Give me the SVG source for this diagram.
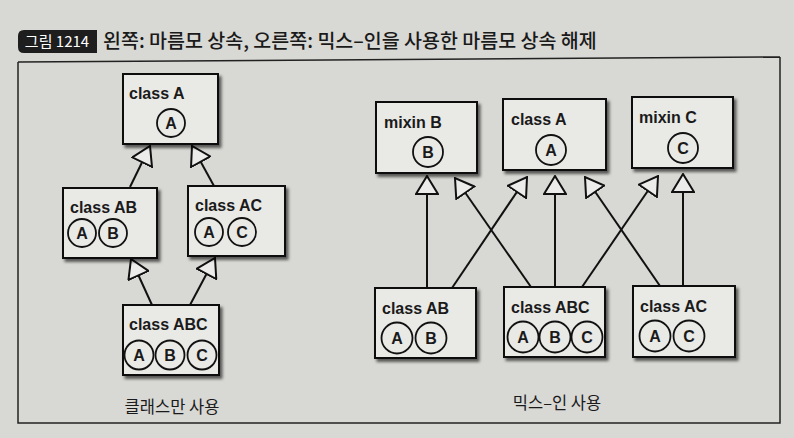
<svg xmlns="http://www.w3.org/2000/svg" width="794" height="438" viewBox="0 0 794 438">
<defs>
<style>
.bg{fill:#d8d8d4}
.box{fill:#e9e9e6;stroke:#111;stroke-width:2;filter:url(#sh)}
.lbl{font-family:"Liberation Sans",Arial,sans-serif;font-weight:bold;font-size:16px;fill:#1a1a1a}
.cir{fill:none;stroke:#111;stroke-width:1.8}
.let{font-family:"Liberation Sans",Arial,sans-serif;font-weight:bold;font-size:16px;fill:#1a1a1a;text-anchor:middle}
.edge{stroke:#111;stroke-width:2;fill:none;marker-end:url(#tri)}
.frame{stroke:#222;stroke-width:1.5;fill:none}
.ko{font-family:"Noto Sans CJK KR","Noto Sans",sans-serif;fill:#1a1a1a}
</style>
<filter id="sh" x="-10%" y="-10%" width="130%" height="130%">
<feDropShadow dx="2.5" dy="3" stdDeviation="1.5" flood-color="#000" flood-opacity="0.6"/>
</filter>
<marker id="tri" viewBox="0 0 20 24" refX="19" refY="12" markerWidth="20" markerHeight="24" markerUnits="userSpaceOnUse" orient="auto">
<path d="M1,1 L19,12 L1,23 Z" fill="#ececea" stroke="#111" stroke-width="2" stroke-linejoin="miter"/>
</marker>
</defs>
<rect class="bg" x="0" y="0" width="794" height="438"/>

<g id="title">
<path d="M24,30 H97 V53 H24 Q18,53 18,47 V36 Q18,30 24,30 Z" fill="#1e1e1e"/>
<text class="ko" x="57" y="47" font-size="15" style="fill:#fff" text-anchor="middle">그림 1214</text>
<text class="ko" x="103" y="48" font-size="19.5" font-weight="500">왼쪽: 마름모 상속, 오른쪽: 믹스–인을 사용한 마름모 상속 해제</text>
</g>

<g id="frame">
<path class="frame" d="M18,62 L780,57"/>
<path class="frame" d="M18,62 L18,423 L780,423 L780,57"/>
</g>

<g id="connectors">
<line class="edge" x1="130" y1="187" x2="150" y2="146"/>
<line class="edge" x1="214" y1="186" x2="192" y2="146"/>
<line class="edge" x1="152" y1="305" x2="131" y2="259"/>
<line class="edge" x1="190" y1="305" x2="215" y2="258"/>
<line class="edge" x1="427" y1="288" x2="427" y2="176"/>
<line class="edge" x1="531" y1="287" x2="455" y2="178"/>
<line class="edge" x1="452" y1="288" x2="527" y2="177"/>
<line class="edge" x1="555" y1="287" x2="555" y2="176"/>
<line class="edge" x1="582" y1="287" x2="658" y2="176"/>
<line class="edge" x1="660" y1="286" x2="585" y2="177"/>
<line class="edge" x1="683" y1="286" x2="683" y2="174"/>
</g>

<g id="left-classA">
<rect class="box" x="123" y="74" width="95" height="70"/>
<text class="lbl" x="129" y="99">class A</text>
<circle class="cir" cx="171" cy="123" r="14"/><text class="let" x="171" y="129">A</text>
</g>
<g id="left-classAB">
<rect class="box" x="63" y="188" width="94" height="70"/>
<text class="lbl" x="70" y="213">class AB</text>
<circle class="cir" cx="82" cy="233" r="14"/><text class="let" x="82" y="239">A</text>
<circle class="cir" cx="113" cy="233" r="14"/><text class="let" x="113" y="239">B</text>
</g>
<g id="left-classAC">
<rect class="box" x="188" y="186" width="97" height="70"/>
<text class="lbl" x="195" y="211">class AC</text>
<circle class="cir" cx="209" cy="232" r="14"/><text class="let" x="209" y="238">A</text>
<circle class="cir" cx="242" cy="232" r="14"/><text class="let" x="242" y="238">C</text>
</g>
<g id="left-classABC">
<rect class="box" x="123" y="305" width="96" height="70"/>
<text class="lbl" x="129" y="330">class ABC</text>
<circle class="cir" cx="139" cy="355" r="14.5"/><text class="let" x="139" y="361">A</text>
<circle class="cir" cx="170" cy="355" r="14.5"/><text class="let" x="170" y="361">B</text>
<circle class="cir" cx="202" cy="355" r="14.5"/><text class="let" x="202" y="361">C</text>
</g>
<text class="ko" x="172" y="413" font-size="16.5">
<tspan text-anchor="middle">클래스만 사용</tspan></text>

<g id="mixinB">
<rect class="box" x="376" y="102" width="101" height="71"/>
<text class="lbl" x="384" y="128">mixin B</text>
<circle class="cir" cx="428" cy="152" r="15"/><text class="let" x="428" y="158">B</text>
</g>
<g id="right-classA">
<rect class="box" x="503" y="99" width="103" height="71"/>
<text class="lbl" x="511" y="125">class A</text>
<circle class="cir" cx="551" cy="150" r="15"/><text class="let" x="551" y="156">A</text>
</g>
<g id="mixinC">
<rect class="box" x="632" y="97" width="101" height="71"/>
<text class="lbl" x="639" y="123">mixin C</text>
<circle class="cir" cx="683" cy="148" r="15"/><text class="let" x="683" y="154">C</text>
</g>
<g id="right-classAB">
<rect class="box" x="375" y="288" width="101" height="70"/>
<text class="lbl" x="382" y="314">class AB</text>
<circle class="cir" cx="397" cy="338" r="15.5"/><text class="let" x="397" y="344">A</text>
<circle class="cir" cx="431" cy="338" r="15.5"/><text class="let" x="431" y="344">B</text>
</g>
<g id="right-classABC">
<rect class="box" x="504" y="287" width="101" height="70"/>
<text class="lbl" x="511" y="313">class ABC</text>
<circle class="cir" cx="523" cy="337" r="15.5"/><text class="let" x="523" y="343">A</text>
<circle class="cir" cx="555" cy="337" r="15.5"/><text class="let" x="555" y="343">B</text>
<circle class="cir" cx="587" cy="337" r="15.5"/><text class="let" x="587" y="343">C</text>
</g>
<g id="right-classAC">
<rect class="box" x="633" y="286" width="102" height="71"/>
<text class="lbl" x="640" y="312">class AC</text>
<circle class="cir" cx="655" cy="336" r="15.5"/><text class="let" x="655" y="342">A</text>
<circle class="cir" cx="689" cy="336" r="15.5"/><text class="let" x="689" y="342">C</text>
</g>
<text class="ko" x="557" y="409" font-size="16.5" text-anchor="middle">믹스–인 사용</text>
</svg>
